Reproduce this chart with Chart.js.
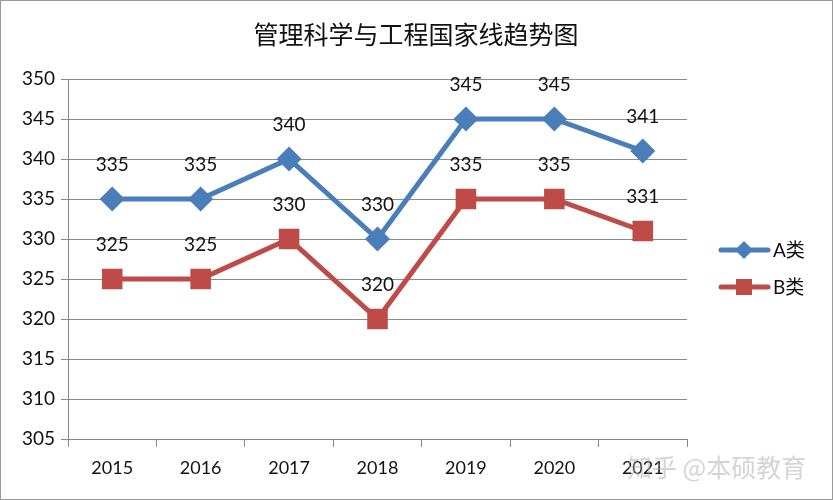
<!DOCTYPE html>
<html><head><meta charset="utf-8">
<script src="https://cdn.jsdelivr.net/npm/chart.js@4/dist/chart.umd.min.js"></script>
<style>html,body{margin:0;padding:0;background:#fff}#wrap{width:833px;height:500px;position:relative;box-sizing:border-box;border:1px solid #9a9a9a}canvas{display:block}</style>
</head><body><div id="wrap"><canvas id="c" width="831" height="498"></canvas></div>
<script>
const title = '管理科学与工程国家线趋势图';
const categories = ['2015','2016','2017','2018','2019','2020','2021'];
const seriesA = [335,335,340,330,345,345,341];
const seriesB = [325,325,330,320,335,335,331];
const seriesNames = ['A类','B类'];
const yTicks = {min:305,max:350,step:5};
const watermark = '知乎 @本硕教育';

const numFont = '"Lato", "Noto Sans", sans-serif';

const labelsPlugin = {
  id:'vals',
  afterDatasetsDraw(chart){
    const ctx = chart.ctx;
    ctx.save();
    ctx.font = '19px ' + numFont;
    ctx.fillStyle = '#111';
    ctx.textAlign = 'center';
    ctx.textBaseline = 'middle';
    chart.data.datasets.forEach((ds,i)=>{
      const meta = chart.getDatasetMeta(i);
      meta.data.forEach((pt,j)=>{
        ctx.fillText(String(ds.data[j]), pt.x, pt.y - 34);
      });
    });
    ctx.restore();
  },
  afterDraw(chart){
    const ctx = chart.ctx;
    ctx.save();
    // title
    ctx.font = '25px "Noto Sans CJK SC", sans-serif';
    ctx.fillStyle = '#111';
    ctx.textAlign = 'center';
    ctx.textBaseline = 'middle';
    ctx.fillText(title, 415, 33);
    // legend
    const ys = [249, 286];
    chart.data.datasets.forEach((ds,i)=>{
      const y = ys[i];
      ctx.strokeStyle = ds.borderColor;
      ctx.lineWidth = 5;
      ctx.lineCap = 'round';
      ctx.beginPath(); ctx.moveTo(720,y); ctx.lineTo(767,y); ctx.stroke();
      ctx.fillStyle = ds.borderColor;
      if(i===0){
        ctx.beginPath(); ctx.moveTo(743,y-9); ctx.lineTo(752,y); ctx.lineTo(743,y+9); ctx.lineTo(734,y); ctx.closePath(); ctx.fill();
      } else {
        ctx.fillRect(735,y-8,16,16);
      }
      ctx.fillStyle = '#111';
      ctx.textAlign = 'left';
      ctx.font = '19px ' + numFont + ', "Noto Sans CJK SC"';
      ctx.fillText(ds.label, 772, y+1);
    });
    // watermark
    ctx.font = '25px "Noto Sans CJK SC", sans-serif';
    ctx.fillStyle = 'rgba(170,170,170,0.5)';
    ctx.textAlign = 'left';
    ctx.fillText(watermark, 626, 466);
    ctx.restore();
  }
};

new Chart(document.getElementById('c'), {
  type:'line',
  data:{
    labels:categories,
    datasets:[
      {label:seriesNames[0], data:seriesA, borderColor:'#4a7ebb', backgroundColor:'#4a7ebb', borderWidth:5, pointStyle:'rectRot', pointRadius:9, pointHoverRadius:9, tension:0},
      {label:seriesNames[1], data:seriesB, borderColor:'#be4b48', backgroundColor:'#be4b48', borderWidth:5, pointStyle:'rect', pointRadius:11, pointHoverRadius:11, tension:0}
    ]
  },
  options:{
    responsive:false, animation:false,
    layout:{padding:{left:10,right:145,top:78,bottom:0}},
    plugins:{legend:{display:false},tooltip:{enabled:false},title:{display:false}},
    scales:{
      x:{
        offset:true,
        grid:{offset:true, drawOnChartArea:false, color:'#888', tickLength:8, lineWidth:1},
        border:{color:'#888', width:1},
        ticks:{color:'#111', font:{family:numFont,size:18}, padding:10},
        afterFit(s){ s.height = 60; }
      },
      y:{
        min:yTicks.min, max:yTicks.max,
        grid:{color:'#8a8a8a', tickLength:7, lineWidth:1},
        border:{color:'#8a8a8a', width:1},
        ticks:{stepSize:yTicks.step, color:'#111', font:{family:numFont,size:19}, padding:6},
        afterFit(s){ s.width = 57; }
      }
    }
  },
  plugins:[labelsPlugin]
});
</script></body></html>
